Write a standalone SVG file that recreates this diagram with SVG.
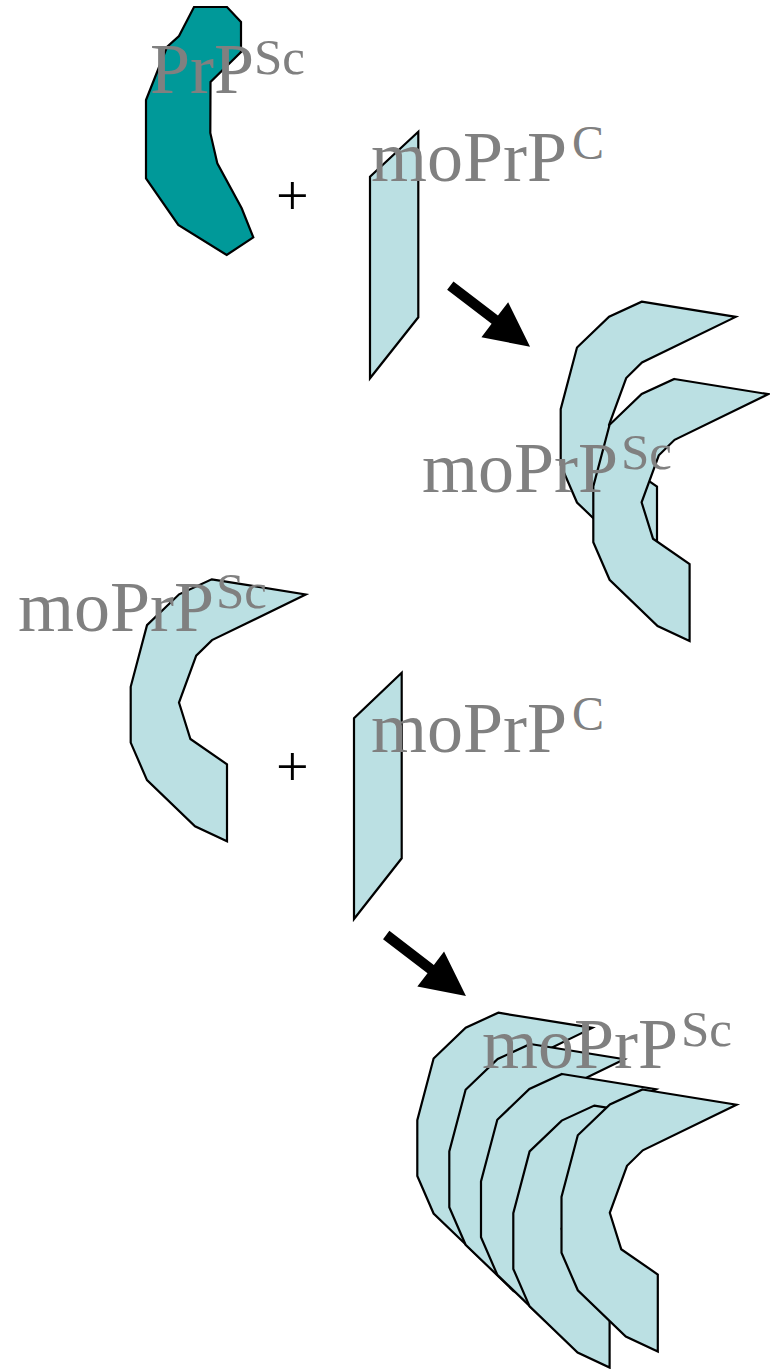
<svg xmlns="http://www.w3.org/2000/svg" xmlns:xlink="http://www.w3.org/1999/xlink" width="770" height="1369" viewBox="0 0 770 1369">
  <style>
    .lbl { font-family: "Liberation Serif", "Times New Roman", serif; font-size: 72px; fill: #808080; }
    .sup { font-size: 48px; }
    .sup-sc { font-size: 51px; }
    .plus { font-family: "Liberation Serif", "Times New Roman", serif; font-size: 58px; fill: #000; }
    .mono { fill: #bbe0e3; stroke: #000; stroke-width: 2.2; stroke-linejoin: miter; }
    .seed { fill: #009999; stroke: #000; stroke-width: 2.2; }
    .arrow { fill: #000; }
  </style>
  <defs>
    <!-- curved misfolded monomer, origin at its upper tip -->
    <path id="sc" class="mono" d="M0,0 L94,15.2 L0.3,60.8 L-15.5,76.3 L-32.7,123.3 L-21.3,159.7 L15.3,185 L15.3,262 L-16.7,247 L-64.7,200.8 L-81,163.3 L-81,107.5 L-64.7,45.8 L-32.6,15 Z"/>
    <!-- block arrow pointing along +x, tail at origin -->
    <polygon id="arr" class="arrow" points="0,-5.2 56,-5.2 56,-22 100.4,0 56,22 56,5.2 0,5.2"/>
  </defs>

  <!-- seed PrPSc -->
  <g id="node-prpsc">
    <path class="seed" d="M194,7 L227,7 L241,22 L241,52 L210.5,82 L210.3,133 L217.3,163.3 L241.7,208.3 L253.3,237.3 L226.7,255 L178.3,225 L146,178.3 L146,100 L167,47 L179,36 Z"/>
    <text class="lbl" x="150" y="93">PrP<tspan class="sup-sc" x="254" y="74">Sc</tspan></text>
  </g>

  <text id="plus-1" class="plus" x="276" y="215">+</text>

  <!-- first normal monomer -->
  <g id="node-moprpc-1">
    <polygon class="mono" points="418.3,131.7 370,176.7 370,378.3 418.3,317.3"/>
    <text class="lbl" x="371" y="181">moPrP<tspan class="sup" x="572" y="159">C</tspan></text>
  </g>

  <!-- dimer product -->
  <g id="node-moprpsc-dimer">
    <use xlink:href="#sc" transform="translate(641.7,301.7)"/>
    <use xlink:href="#sc" transform="translate(674.3,379)"/>
    <text class="lbl" x="422" y="492">moPrP<tspan class="sup-sc" x="621" y="469">Sc</tspan></text>
  </g>

  <!-- converted monomer acting as template -->
  <g id="node-moprpsc">
    <use xlink:href="#sc" transform="translate(211.7,579.3)"/>
    <text class="lbl" x="18" y="631">moPrP<tspan class="sup-sc" x="216" y="608">Sc</tspan></text>
  </g>

  <text id="plus-2" class="plus" x="276" y="786">+</text>

  <!-- second normal monomer -->
  <g id="node-moprpc-2">
    <polygon class="mono" points="401.7,672.7 354,718.3 354,919 401.7,858.3"/>
    <text class="lbl" x="371" y="752">moPrP<tspan class="sup" x="572" y="730">C</tspan></text>
  </g>

  <!-- growing aggregate -->
  <g id="node-moprpsc-aggregate">
    <use xlink:href="#sc" transform="translate(498.3,1012.7)"/>
    <use xlink:href="#sc" transform="translate(530.3,1044)"/>
    <use xlink:href="#sc" transform="translate(562,1074)"/>
    <use xlink:href="#sc" transform="translate(594.3,1105.6)"/>
    <use xlink:href="#sc" transform="translate(642.5,1089.5)"/>
    <text class="lbl" x="482" y="1068">moPrP<tspan class="sup-sc" x="681" y="1046">Sc</tspan></text>
  </g>

  <g id="connectors">
    <use xlink:href="#arr" transform="translate(450.3,285.7) rotate(37.4)"/>
    <use xlink:href="#arr" transform="translate(386.2,935) rotate(37.4)"/>
  </g>
</svg>
